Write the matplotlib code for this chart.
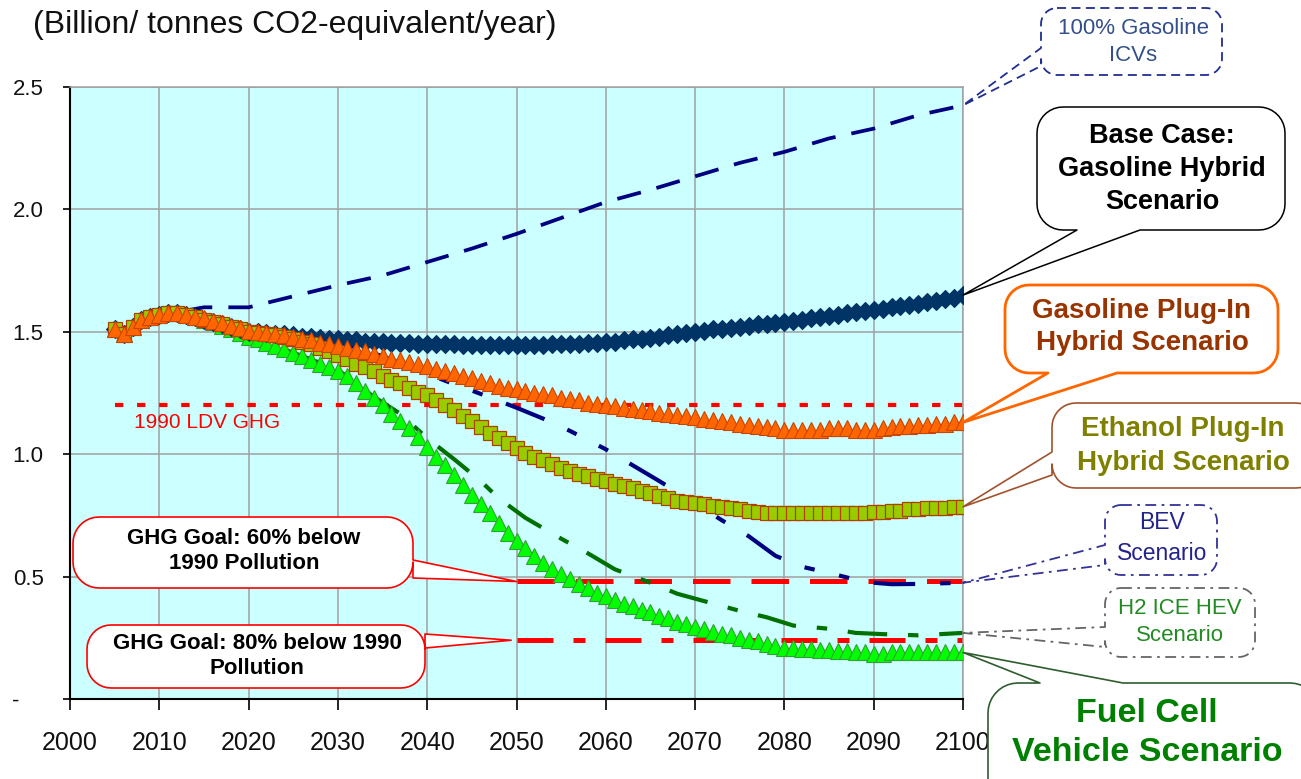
import matplotlib
matplotlib.use('Agg')
import matplotlib.pyplot as plt
from matplotlib.patches import Polygon
import numpy as np

W, H = 1301, 779
plt.rcParams['font.family'] = ['Liberation Sans', 'DejaVu Sans']

# ---------------- data ----------------
years = list(range(2005, 2101))

base_case = [1.51, 1.49, 1.52, 1.55, 1.56, 1.57, 1.575, 1.575, 1.57, 1.56,
             1.55, 1.54, 1.53, 1.52, 1.51, 1.50, 1.50, 1.495, 1.49, 1.49,
             1.485, 1.48, 1.48, 1.475, 1.47, 1.47, 1.465, 1.465, 1.46, 1.46,
             1.46, 1.455, 1.455, 1.455, 1.45, 1.45, 1.45, 1.45, 1.45, 1.445,
             1.445, 1.445, 1.445, 1.445, 1.445, 1.445, 1.445, 1.445, 1.445, 1.45,
             1.45, 1.45, 1.45, 1.455, 1.455, 1.46, 1.46, 1.465, 1.47, 1.47,
             1.475, 1.48, 1.485, 1.49, 1.495, 1.50, 1.505, 1.51, 1.51, 1.515,
             1.52, 1.525, 1.53, 1.53, 1.535, 1.54, 1.545, 1.55, 1.555, 1.56,
             1.565, 1.57, 1.575, 1.58, 1.585, 1.59, 1.595, 1.60, 1.605, 1.61,
             1.615, 1.62, 1.625, 1.635, 1.64, 1.65]

gasoline_phev = [1.51, 1.49, 1.52, 1.55, 1.56, 1.57, 1.575, 1.575, 1.57, 1.56,
                 1.555, 1.545, 1.535, 1.525, 1.515, 1.505, 1.50, 1.495, 1.49, 1.485,
                 1.48, 1.47, 1.465, 1.455, 1.45, 1.44, 1.435, 1.425, 1.42, 1.41,
                 1.40, 1.39, 1.385, 1.375, 1.37, 1.36, 1.35, 1.34, 1.33, 1.32,
                 1.31, 1.30, 1.29, 1.28, 1.27, 1.265, 1.26, 1.25, 1.245, 1.24,
                 1.23, 1.225, 1.22, 1.21, 1.205, 1.20, 1.195, 1.19, 1.185, 1.18,
                 1.175, 1.17, 1.165, 1.16, 1.155, 1.15, 1.145, 1.14, 1.135, 1.13,
                 1.125, 1.12, 1.115, 1.11, 1.105, 1.10, 1.10, 1.10, 1.10, 1.10,
                 1.105, 1.105, 1.105, 1.10, 1.10, 1.10, 1.105, 1.11, 1.115, 1.115,
                 1.12, 1.12, 1.125, 1.125, 1.13, 1.13]

ethanol_phev = [1.51, 1.49, 1.52, 1.55, 1.56, 1.57, 1.575, 1.575, 1.57, 1.56,
                1.55, 1.54, 1.53, 1.52, 1.51, 1.50, 1.495, 1.49, 1.485, 1.48,
                1.47, 1.46, 1.45, 1.435, 1.42, 1.405, 1.39, 1.37, 1.355, 1.34,
                1.32, 1.305, 1.29, 1.27, 1.255, 1.24, 1.22, 1.20, 1.18, 1.155,
                1.135, 1.11, 1.085, 1.065, 1.045, 1.025, 1.005, 0.99, 0.975, 0.96,
                0.945, 0.93, 0.92, 0.91, 0.90, 0.89, 0.88, 0.87, 0.86, 0.85,
                0.84, 0.83, 0.82, 0.81, 0.805, 0.80, 0.795, 0.79, 0.785, 0.78,
                0.775, 0.77, 0.765, 0.76, 0.76, 0.76, 0.76, 0.76, 0.76, 0.76,
                0.76, 0.76, 0.76, 0.76, 0.76, 0.765, 0.765, 0.77, 0.77, 0.775,
                0.775, 0.78, 0.78, 0.78, 0.785, 0.785]

fuel_cell = [1.51, 1.49, 1.52, 1.55, 1.56, 1.57, 1.575, 1.575, 1.57, 1.56,
             1.55, 1.54, 1.525, 1.51, 1.495, 1.48, 1.47, 1.455, 1.44, 1.43,
             1.415, 1.40, 1.385, 1.37, 1.355, 1.34, 1.32, 1.29, 1.26, 1.23,
             1.20, 1.165, 1.135, 1.105, 1.07, 1.03, 0.99, 0.955, 0.915, 0.875,
             0.835, 0.795, 0.76, 0.72, 0.68, 0.645, 0.615, 0.585, 0.555, 0.53,
             0.51, 0.49, 0.47, 0.455, 0.435, 0.42, 0.405, 0.39, 0.38, 0.365,
             0.355, 0.34, 0.33, 0.315, 0.305, 0.295, 0.285, 0.275, 0.265, 0.26,
             0.25, 0.24, 0.235, 0.225, 0.215, 0.21, 0.21, 0.205, 0.205, 0.20,
             0.20, 0.195, 0.195, 0.19, 0.19, 0.185, 0.185, 0.19, 0.19, 0.19,
             0.19, 0.19, 0.19, 0.19, 0.19, 0.19]

icv_years = [2005, 2006, 2008, 2010, 2012, 2015, 2020, 2025, 2030, 2035, 2040, 2045,
             2050, 2055, 2060, 2065, 2070, 2075, 2080, 2085, 2090, 2095, 2100]
gasoline_icv = [1.51, 1.49, 1.55, 1.57, 1.58, 1.60, 1.60, 1.645, 1.69, 1.73, 1.785, 1.84,
                1.90, 1.965, 2.03, 2.08, 2.135, 2.19, 2.235, 2.29, 2.33, 2.385, 2.425]

bev_years = [2005, 2006, 2008, 2010, 2012, 2015, 2020, 2025, 2030, 2035, 2039, 2042,
             2045, 2050, 2053, 2056, 2060, 2063, 2066, 2070, 2073, 2076, 2079, 2082,
             2085, 2089, 2092, 2095, 2100]
bev = [1.51, 1.49, 1.55, 1.57, 1.575, 1.55, 1.50, 1.485, 1.46, 1.40, 1.345, 1.30,
       1.26, 1.19, 1.145, 1.095, 1.02, 0.955, 0.89, 0.80, 0.73, 0.665, 0.585, 0.54,
       0.515, 0.478, 0.469, 0.47, 0.475]

h2_years = [2005, 2006, 2008, 2010, 2012, 2015, 2020, 2025, 2030, 2034, 2037, 2040,
            2043, 2046, 2048, 2051, 2055, 2058, 2061, 2065, 2068, 2071, 2075, 2078,
            2081, 2085, 2088, 2091, 2095, 2100]
h2_ice_hev = [1.51, 1.49, 1.55, 1.57, 1.575, 1.55, 1.48, 1.415, 1.345, 1.235, 1.165, 1.065,
              0.98, 0.89, 0.82, 0.74, 0.655, 0.595, 0.53, 0.475, 0.43, 0.40, 0.36, 0.334,
              0.30, 0.287, 0.27, 0.265, 0.26, 0.27]

ldv_1990_years = [2005, 2100]
ldv_1990 = [1.2, 1.2]
goal_years = [2050, 2100]
goal_60 = [0.48, 0.48]
goal_80 = [0.24, 0.24]

x_ticks = [2000, 2010, 2020, 2030, 2040, 2050, 2060, 2070, 2080, 2090, 2100]
y_ticks = [0.0, 0.5, 1.0, 1.5, 2.0, 2.5]
y_tick_labels = ['-    ', '0.5', '1.0', '1.5', '2.0', '2.5']

# ---------------- figure ----------------
fig = plt.figure(figsize=(W / 100, H / 100), dpi=100)
fig.patch.set_facecolor('white')
ax = fig.add_axes([70 / W, 1 - 699 / H, (963 - 70) / W, (699 - 87) / H])
ax.set_facecolor('#CCFFFF')
ax.set_xlim(2000, 2100)
ax.set_ylim(0, 2.5)
ax.set_xticks(x_ticks)
ax.set_xticklabels([str(t) for t in x_ticks], fontsize=18)
ax.set_yticks(y_ticks)
ax.set_yticklabels(y_tick_labels, fontsize=16)
ax.grid(True, color='#A0A0A0', lw=1.1)
ax.set_axisbelow(True)
for s in ['top', 'right']:
    ax.spines[s].set_color('#A0A0A0')
    ax.spines[s].set_linewidth(1.1)
for s in ['left', 'bottom']:
    ax.spines[s].set_color('black')
    ax.spines[s].set_linewidth(1.5)
ax.tick_params(axis='x', length=8, width=1.2, pad=15, colors='black')
ax.tick_params(axis='y', length=5, width=1.2, pad=14, colors='black')
for lab in ax.get_xticklabels() + ax.get_yticklabels():
    lab.set_color('#111111')

# reference lines
ax.plot(ldv_1990_years, ldv_1990, color='#FF0000', lw=3.0,
        linestyle=(0, (2.0, 3.3)), zorder=1.5, solid_capstyle='butt')
ax.plot(goal_years, goal_60, color='#FF0000', lw=3.6,
        linestyle=(0, (7.5, 4.2)), zorder=1.5)
ax.plot(goal_years, goal_80, color='#FF0000', lw=3.6,
        linestyle=(0, (7.2, 4.0, 2.4, 4.0)), zorder=1.5)
ax.text(2015.3, 1.13, '1990 LDV GHG', color='#FF0000', fontsize=15,
        ha='center', va='center', zorder=2)

# scenario lines
ax.plot(icv_years, gasoline_icv, color='#000080', lw=2.7,
        linestyle=(0, (6.5, 4.3)), zorder=2)
ax.plot(bev_years, bev, color='#000080', lw=3.0,
        linestyle=(0, (10, 6, 2.5, 6, 2.5, 6)), zorder=2.2)
ax.plot(h2_years, h2_ice_hev, color='#007000', lw=3.0,
        linestyle=(0, (9.5, 5, 2.5, 5)), zorder=2.1)

ax.plot(years, fuel_cell, linestyle='none', marker='^', markersize=11,
        markerfacecolor='#00FF00', markeredgecolor='#33A033', markeredgewidth=0.8, zorder=3)
ax.plot(years, base_case, linestyle='none', marker='D', markersize=9.5,
        markerfacecolor='#003366', markeredgecolor='#003366', markeredgewidth=0.8, zorder=3.5)
ax.plot(years, ethanol_phev, linestyle='none', marker='s', markersize=9.5,
        markerfacecolor='#99CC00', markeredgecolor='#B04000', markeredgewidth=0.9, zorder=4)
ax.plot(years, gasoline_phev, linestyle='none', marker='^', markersize=11,
        markerfacecolor='#FF6600', markeredgecolor='#CC4400', markeredgewidth=0.8, zorder=5)

# ---------------- title ----------------
fig.text(33 / W, 1 - 25 / H, '(Billion/ tonnes CO2-equivalent/year)', fontsize=23,
         ha='left', va='center', color='#111111')


# ---------------- callouts ----------------
def data_px(x, y):
    px, py = ax.transData.transform((x, y))
    return px, H - py


def arc(cx, cy, r, t0, t1, n=10):
    t = np.radians(np.linspace(t0, t1, n))
    return [(cx + r * np.cos(a), cy + r * np.sin(a)) for a in t]


def callout(box, r, side, base, tip, ec, lw=1.2, ls='-', fc='white'):
    x0, y0, x1, y1 = box
    pts = []
    pts.append((x0 + r, y0))
    if side == 'top':
        pts += [(min(base), y0), tip, (max(base), y0)]
    pts.append((x1 - r, y0))
    pts += arc(x1 - r, y0 + r, r, -90, 0)
    if side == 'right':
        pts += [(x1, min(base)), tip, (x1, max(base))]
    pts += arc(x1 - r, y1 - r, r, 0, 90)
    if side == 'bottom':
        pts += [(max(base), y1), tip, (min(base), y1)]
    pts += arc(x0 + r, y1 - r, r, 90, 180)
    if side == 'left':
        pts += [(x0, max(base)), tip, (x0, min(base))]
    pts += arc(x0 + r, y0 + r, r, 180, 270)
    fpts = [(px / W, 1 - py / H) for px, py in pts]
    poly = Polygon(fpts, closed=True, transform=fig.transFigure, facecolor=fc,
                   edgecolor=ec, lw=lw, linestyle=ls, zorder=5, joinstyle='round')
    fig.add_artist(poly)


def ctext(cx, cy, s, ls=1.4, **kw):
    fig.text(cx / W, 1 - cy / H, s, ha='center', va='center', zorder=6,
             linespacing=ls, **kw)


# 100% gasoline ICVs
callout((1041, 8, 1222, 75), 16, 'left', (48, 66), data_px(icv_years[-1], gasoline_icv[-1]),
        '#1F2F8F', lw=1.3, ls=(0, (5, 3)))
ctext(1133, 42, '100% Gasoline\nICVs', fontsize=16, color='#34508A')

# Base case
callout((1037, 107, 1285, 230), 26, 'bottom', (1077, 1140), data_px(years[-1], base_case[-1]),
        'black', lw=1.1)
ctext(1162, 169, 'Base Case:\nGasoline Hybrid\nScenario', fontsize=19.5,
      fontweight='bold', color='black', ls=1.35)

# Gasoline plug-in
callout((1005, 285, 1278, 373), 24, 'bottom', (1048, 1117),
        data_px(years[-1], gasoline_phev[-1]), '#FF6600', lw=2.0)
ctext(1142, 327, 'Gasoline Plug-In\nHybrid Scenario', fontsize=20,
      fontweight='bold', color='#993300', ls=1.35)

# Ethanol plug-in
callout((1052, 403, 1320, 488), 24, 'left', (452, 475),
        data_px(years[-1], ethanol_phev[-1]), '#A0522D', lw=1.2)
ctext(1183, 446, 'Ethanol Plug-In\nHybrid Scenario', fontsize=20,
      fontweight='bold', color='#808000', ls=1.35)

# BEV
callout((1105, 505, 1217, 575), 16, 'left', (545, 565), data_px(bev_years[-1], bev[-1]),
        '#333399', lw=1.3, ls=(0, (6, 3, 1.5, 3)))
ctext(1162, 538, 'BEV\nScenario', fontsize=16.5, color='#22228B')

# H2 ICE HEV
callout((1105, 588, 1255, 657), 16, 'left', (627, 647),
        data_px(h2_years[-1], h2_ice_hev[-1]), '#666666', lw=1.3, ls=(0, (6, 3, 1.5, 3)))
ctext(1180, 622, 'H2 ICE HEV\nScenario', fontsize=16, color='#228B22')

# Fuel cell
callout((988, 683, 1320, 810), 30, 'top', (1040, 1123), data_px(years[-1], fuel_cell[-1]),
        '#2E5E2E', lw=1.2)
ctext(1147, 733, 'Fuel Cell\nVehicle Scenario', fontsize=24.5, fontweight='bold',
      color='#008000', ls=1.3)

# GHG goals
callout((73, 517, 413, 588), 26, 'right', (560, 578), data_px(goal_years[0], goal_60[0]),
        '#FF0000', lw=1.2)
ctext(244, 551, 'GHG Goal: 60% below\n1990 Pollution', fontsize=16, fontweight='bold',
      color='black', ls=1.3)

callout((87, 625, 425, 688), 24, 'right', (634, 648), data_px(goal_years[0] - 0.6, goal_80[0]),
        '#FF0000', lw=1.2)
ctext(257, 656, 'GHG Goal: 80% below 1990\nPollution', fontsize=16, fontweight='bold',
      color='black', ls=1.3)

fig.savefig('out.png', dpi=100)
